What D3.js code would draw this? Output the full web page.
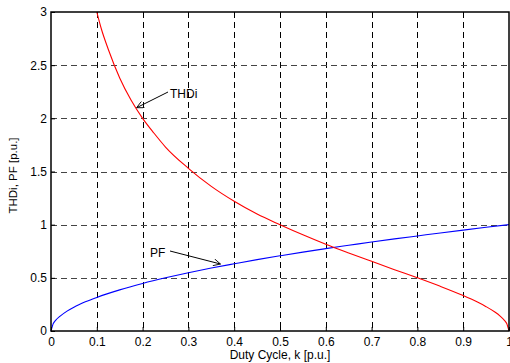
<!DOCTYPE html>
<html>
<head>
  <meta charset="utf-8">
  <script src="https://d3js.org/d3.v7.min.js"></script>
  <style>
    body { margin: 0; background: white; }
    svg { display: block; }
    text { font-family: Arial, "Liberation Sans", sans-serif; }
  </style>
</head>
<body>
<script>
  // values
  const kPF = [0, 0.005, 0.01, 0.02, 0.035, 0.05, 0.075, 0.1, 0.15, 0.2, 0.25, 0.3, 0.35, 0.4, 0.45, 0.5,
               0.55, 0.6, 0.65, 0.7, 0.75, 0.8, 0.85, 0.9, 0.95, 1];
  const pf = [0, 0.07, 0.1, 0.14, 0.187, 0.224, 0.274, 0.316, 0.387, 0.447, 0.5, 0.548, 0.592, 0.632, 0.671, 0.707,
              0.742, 0.775, 0.806, 0.837, 0.866, 0.894, 0.922, 0.949, 0.975, 1];
  const kTHD = [0.1, 0.11, 0.125, 0.15, 0.175, 0.2, 0.225, 0.25, 0.3, 0.35, 0.4, 0.45, 0.5, 0.55, 0.6, 0.65,
                0.7, 0.75, 0.8, 0.85, 0.9, 0.93, 0.95, 0.97, 0.98, 0.99, 0.995, 1];
  const thdi = [3, 2.84, 2.65, 2.38, 2.17, 2, 1.86, 1.73, 1.53, 1.36, 1.22, 1.1, 1, 0.905, 0.816, 0.734,
                0.655, 0.577, 0.5, 0.42, 0.333, 0.274, 0.229, 0.176, 0.143, 0.1, 0.07, 0];
  const xTicks = [0, 0.1, 0.2, 0.3, 0.4, 0.5, 0.6, 0.7, 0.8, 0.9, 1];
  const yTicks = [0, 0.5, 1, 1.5, 2, 2.5, 3];

  const width = 510, height = 363;
  const margin = { top: 12, right: 1, bottom: 32, left: 51 };

  const svg = d3.select("body").append("svg")
    .attr("width", width)
    .attr("height", height);

  const x = d3.scaleLinear().domain([0, 1]).range([margin.left, width - margin.right]);
  const y = d3.scaleLinear().domain([0, 3]).range([height - margin.bottom, margin.top]);

  // grid
  const grid = svg.append("g");
  grid.selectAll(".vg")
    .data(xTicks.slice(1, -1))
    .join("line")
    .attr("x1", d => Math.round(x(d)) + 0.5).attr("x2", d => Math.round(x(d)) + 0.5)
    .attr("y1", y(3)).attr("y2", y(0))
    .attr("stroke", "#000")
    .attr("stroke-dasharray", "6,4");
  grid.selectAll(".hg")
    .data(yTicks.slice(1, -1))
    .join("line")
    .attr("y1", d => Math.round(y(d)) + 0.5).attr("y2", d => Math.round(y(d)) + 0.5)
    .attr("x1", x(0)).attr("x2", x(1))
    .attr("stroke", "#444")
    .attr("stroke-dasharray", "6,4");

  // curves
  const line = d3.line().x(d => x(d[0])).y(d => y(d[1])).curve(d3.curveMonotoneX);
  svg.append("path")
    .datum(kPF.map((k, i) => [k, pf[i]]))
    .attr("d", line)
    .attr("fill", "none")
    .attr("stroke", "#0000ff")
    .attr("stroke-width", 1.1);
  svg.append("path")
    .datum(kTHD.map((k, i) => [k, thdi[i]]))
    .attr("d", line)
    .attr("fill", "none")
    .attr("stroke", "#ff0000")
    .attr("stroke-width", 1.1);

  // axes
  const xAxis = svg.append("g")
    .attr("transform", `translate(0,${y(0)})`)
    .call(d3.axisBottom(x).tickValues(xTicks).tickSizeInner(-4).tickSizeOuter(0).tickPadding(6)
      .tickFormat(d => d3.format("~g")(d)));
  const yAxis = svg.append("g")
    .attr("transform", `translate(${x(0)},0)`)
    .call(d3.axisLeft(y).tickValues(yTicks).tickSizeInner(-4).tickSizeOuter(0).tickPadding(4)
      .tickFormat(d => d3.format("~g")(d)));
  [xAxis, yAxis].forEach(a => {
    a.selectAll("text").attr("font-size", 12).attr("fill", "#000").attr("font-family", "Arial, 'Liberation Sans', sans-serif");
    a.select(".domain").remove();
  });

  // box
  svg.append("rect")
    .attr("x", x(0)).attr("y", y(3))
    .attr("width", x(1) - x(0)).attr("height", y(0) - y(3))
    .attr("fill", "none").attr("stroke", "#000").attr("stroke-width", 1.5);

  // labels
  svg.append("text")
    .attr("x", (x(0) + x(1)) / 2).attr("y", 359)
    .attr("text-anchor", "middle").attr("font-size", 12)
    .text("Duty Cycle, k [p.u.]");
  svg.append("text")
    .attr("transform", `translate(17,${(y(0) + y(3)) / 2 + 4}) rotate(-90)`)
    .attr("text-anchor", "middle").attr("font-size", 11.5)
    .text("THDi, PF [p.u.]");

  // annotations
  svg.append("defs").append("marker")
    .attr("id", "ah").attr("viewBox", "0 0 10 10").attr("refX", 10).attr("refY", 5)
    .attr("markerWidth", 9).attr("markerHeight", 7).attr("orient", "auto")
    .append("path").attr("d", "M0,0L10,5L0,10").attr("fill", "none").attr("stroke", "#000").attr("stroke-width", 1.2);

  const notes = [
    { text: "THDi", tx: 170, ty: 98, x1: 168, y1: 92, k: 0.187, v: 2.1 },
    { text: "PF", tx: 150, ty: 257, x1: 170, y1: 251, k: 0.37, v: 0.63 }
  ];
  notes.forEach(n => {
    svg.append("line")
      .attr("x1", n.x1).attr("y1", n.y1)
      .attr("x2", x(n.k)).attr("y2", y(n.v))
      .attr("stroke", "#000").attr("stroke-width", 1)
      .attr("marker-end", "url(#ah)");
    svg.append("text")
      .attr("x", n.tx).attr("y", n.ty)
      .attr("font-size", 12)
      .text(n.text);
  });
</script>
</body>
</html>
